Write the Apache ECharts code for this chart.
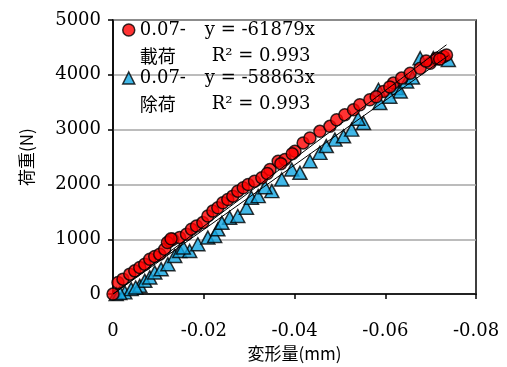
<!DOCTYPE html>
<html>
<head>
<meta charset="utf-8">
<script src="https://cdn.jsdelivr.net/npm/echarts@6/dist/echarts.min.js"></script>
<style>
  html, body { margin: 0; padding: 0; background: #fff; }
  #chart { width: 507px; height: 367px; }
</style>
</head>
<body>
<div id="chart"></div>
<script>
// 載荷 (loading) points
const loadX = [0, -0.0011, -0.0022, -0.0037, -0.0048, -0.0059, -0.0070, -0.0081, -0.0092, -0.0103,
  -0.0114, -0.0125, -0.0132, -0.0147, -0.0162, -0.0173, -0.0184, -0.0198, -0.0209, -0.0220,
  -0.0231, -0.0242, -0.0253, -0.0264, -0.0275, -0.0287, -0.0298, -0.0312, -0.0328, -0.0346,
  -0.0364, -0.0379, -0.0401, -0.0419, -0.0434, -0.0456, -0.0478, -0.0493, -0.0511, -0.0530,
  -0.0544, -0.0566, -0.0596, -0.0618, -0.0636, -0.0655, -0.0677, -0.0699, -0.0713, -0.0728, -0.0735,
  -0.0120, -0.0128, -0.0340, -0.0370, -0.0395, -0.0580, -0.0610, -0.0690, -0.0720]
const loadY = [0, 213, 273, 364, 424, 486, 545, 636, 685, 727,
  818, 969, 1000, 1031, 1091, 1182, 1242, 1304, 1424, 1514,
  1576, 1667, 1727, 1787, 1878, 1940, 2000, 2060, 2122, 2273,
  2423, 2454, 2605, 2758, 2849, 2969, 3060, 3182, 3272, 3363,
  3454, 3545, 3696, 3849, 3940, 4030, 4121, 4212, 4303, 4332, 4363,
  940, 1010, 2200, 2380, 2560, 3600, 3780, 4250, 4290]

// 除荷 (unloading) points
const unloadX = [-0.0007, -0.0026, -0.0040, -0.0059, -0.0070, -0.0081, -0.0092, -0.0106, -0.0121, -0.0136,
  -0.0147, -0.0169, -0.0187, -0.0209, -0.0224, -0.0231, -0.0257, -0.0275, -0.0294, -0.0305,
  -0.0320, -0.0350, -0.0372, -0.0394, -0.0412, -0.0434, -0.0456, -0.0489, -0.0508, -0.0526,
  -0.0552, -0.0588, -0.0585, -0.0625, -0.0633, -0.0647, -0.0677, -0.0706, -0.0739,
  -0.0015, -0.0050, -0.0155, -0.0240, -0.0335, -0.0470, -0.0540, -0.0610, -0.0660]
const unloadY = [0, 31, 91, 151, 242, 304, 395, 455, 545, 696,
  787, 787, 909, 1031, 1060, 1182, 1394, 1424, 1576, 1758,
  1787, 1878, 2091, 2273, 2212, 2423, 2576, 2818, 2878, 3000,
  3122, 3485, 3727, 3758, 3696, 3878, 4303, 4303, 4272,
  20, 120, 850, 1300, 1950, 2700, 3200, 3600, 3950]

// trendlines (through origin)
const loadSlope = -61879
const unloadSlope = -58863
const loadTrendEnd = -0.0735
const unloadTrendEnd = -0.0739

const xTicks = ['0', '-0.02', '-0.04', '-0.06', '-0.08']

const zip = (xs, ys) => xs.map((x, i) => [x, ys[i]])
const serif = 'DejaVu Serif'
const jp = 'Noto Sans CJK JP'

const chart = echarts.init(document.getElementById('chart'))

chart.setOption({
  animation: false,
  textStyle: { fontFamily: serif },
  grid: {
    left: 113, right: 31, top: 20, bottom: 72,
    show: true, borderColor: '#000', borderWidth: 1.5
  },
  legend: {
    orient: 'vertical',
    left: 122,
    top: -5,
    padding: 0,
    itemWidth: 12,
    itemHeight: 12,
    itemGap: -22,
    data: ['載荷', '除荷'],
    itemStyle: { borderColor: '#000', borderWidth: 1.5 },
    formatter: name => {
      const eq = name === '載荷'
        ? ['y = -61879x', 'R² = 0.993']
        : ['y = -58863x', 'R² = 0.993']
      return '{s| }\n{a|0.07-}{e|' + eq[0] + '}\n{b|' + name + '}{e|' + eq[1] + '}'
    },
    textStyle: {
      color: '#000',
      rich: {
        s: { fontSize: 18, lineHeight: 26 },
        a: { fontFamily: serif, fontSize: 18, lineHeight: 26, width: 65, color: '#000' },
        b: { fontFamily: jp, fontSize: 18, lineHeight: 26, width: 72, color: '#000' },
        e: { fontFamily: serif, fontSize: 18, lineHeight: 26, color: '#000' }
      }
    }
  },
  xAxis: {
    type: 'value',
    min: -0.08,
    max: 0,
    interval: 0.02,
    inverse: true,
    name: '変形量(mm)',
    nameLocation: 'middle',
    nameGap: 48,
    nameTextStyle: { fontFamily: jp, fontSize: 17, color: '#000' },
    axisLine: { show: true, onZero: false, lineStyle: { color: '#000', width: 1.5 } },
    axisTick: { show: true, inside: false, length: 5, lineStyle: { color: '#000', width: 1.5 } },
    axisLabel: {
      margin: 28,
      fontFamily: serif,
      fontSize: 18,
      color: '#000',
      formatter: v => xTicks[Math.round(-v / 0.02)]
    },
    splitLine: { show: false }
  },
  yAxis: {
    type: 'value',
    min: 0,
    max: 5000,
    interval: 1000,
    name: '荷重(N)',
    nameLocation: 'middle',
    nameRotate: 90,
    nameGap: 78,
    nameTextStyle: { fontFamily: jp, fontSize: 17, color: '#000' },
    axisLine: { show: true, lineStyle: { color: '#000', width: 1.5 } },
    axisTick: { show: true, inside: false, length: 5, lineStyle: { color: '#000', width: 1.5 } },
    axisLabel: { margin: 12, fontFamily: serif, fontSize: 18, color: '#000', formatter: v => String(v) },
    splitLine: { show: true, lineStyle: { color: '#a6a6a6', width: 1.5 } }
  },
  series: [
    {
      name: '除荷',
      type: 'scatter',
      symbol: 'triangle',
      symbolSize: [14, 13],
      itemStyle: { color: '#12a6e2', borderColor: '#000', borderWidth: 1.5 },
      data: zip(unloadX, unloadY),
      z: 2
    },
    {
      name: '載荷',
      type: 'scatter',
      symbol: 'circle',
      symbolSize: 12,
      itemStyle: { color: '#ff0000', borderColor: '#000', borderWidth: 1.5 },
      data: zip(loadX, loadY),
      z: 3
    },
    {
      type: 'line',
      symbol: 'none',
      silent: true,
      lineStyle: { color: '#000', width: 1 },
      data: [[0, 0], [loadTrendEnd, loadSlope * loadTrendEnd]],
      z: 4
    },
    {
      type: 'line',
      symbol: 'none',
      silent: true,
      lineStyle: { color: '#000', width: 1 },
      data: [[0, 0], [unloadTrendEnd, unloadSlope * unloadTrendEnd]],
      z: 4
    }
  ]
})
</script>
</body>
</html>
